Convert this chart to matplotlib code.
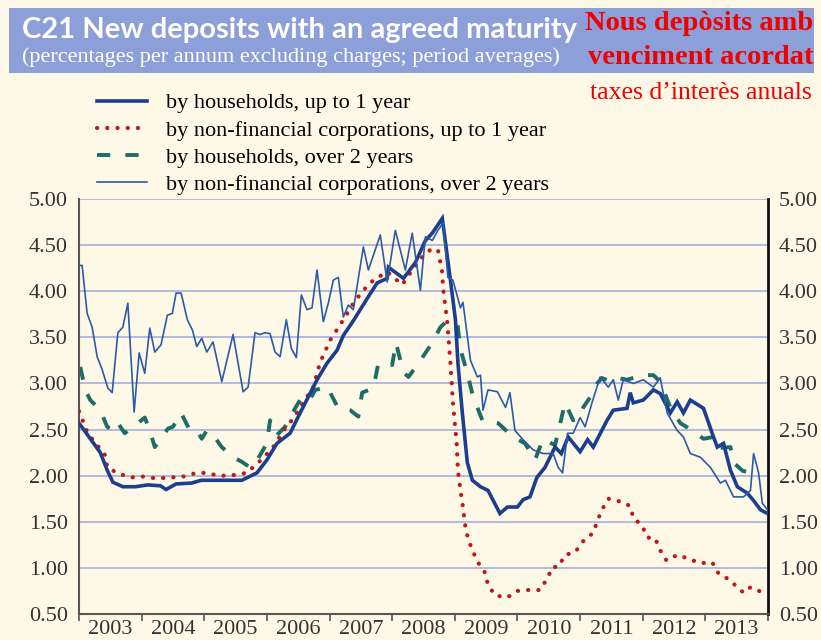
import matplotlib
matplotlib.use("Agg")
import matplotlib.pyplot as plt
from matplotlib.patches import Rectangle

# x = years since Jan 2003, y = % per annum
hh_short_t = [0.00, 0.34, 0.45, 0.54, 0.70, 0.90, 1.10, 1.30, 1.39, 1.55, 1.80, 1.95,
              2.30, 2.60, 2.84, 3.00, 3.16, 3.37, 3.53, 3.80, 3.96, 4.12, 4.22, 4.38,
              4.60, 4.76, 4.92, 4.94, 5.18, 5.37, 5.53, 5.64, 5.80, 5.93, 6.01, 6.05,
              6.12, 6.20, 6.28, 6.41, 6.53, 6.72, 6.84, 7.00, 7.09, 7.20, 7.31, 7.44,
              7.60, 7.70, 7.81, 8.00, 8.12, 8.21, 8.43, 8.53, 8.75, 8.80, 8.85, 9.01,
              9.17, 9.28, 9.44, 9.55, 9.65, 9.76, 9.97, 10.13, 10.19, 10.29, 10.40,
              10.51, 10.67, 10.77, 10.88, 10.99]
hh_short_v = [2.57, 2.25, 2.06, 1.93, 1.88, 1.88, 1.90, 1.89, 1.85, 1.91, 1.92, 1.95,
              1.95, 1.95, 2.03, 2.17, 2.35, 2.46, 2.68, 3.04, 3.22, 3.36, 3.52, 3.68,
              3.92, 4.09, 4.14, 4.26, 4.14, 4.31, 4.55, 4.63, 4.79, 4.12, 3.69, 3.22,
              2.68, 2.14, 1.95, 1.88, 1.84, 1.59, 1.66, 1.66, 1.74, 1.77, 1.98, 2.09,
              2.31, 2.24, 2.42, 2.26, 2.39, 2.31, 2.60, 2.71, 2.73, 2.90, 2.79, 2.82,
              2.93, 2.89, 2.68, 2.80, 2.68, 2.82, 2.73, 2.42, 2.31, 2.35, 2.06,
              1.88, 1.81, 1.73, 1.63, 1.59]

nfc_short_t = [0.00, 0.14, 0.42, 0.45, 0.61, 0.81, 1.02, 1.25, 1.45, 1.66, 1.88, 2.04,
               2.22, 2.41, 2.68, 2.94, 3.10, 3.29, 3.42, 3.53, 3.74, 3.85, 4.01, 4.22,
               4.38, 4.54, 4.70, 4.92, 5.16, 5.32, 5.48, 5.61, 5.73, 5.80, 5.81, 5.88,
               5.93, 5.97, 6.03, 6.05, 6.09, 6.12, 6.17, 6.21, 6.28, 6.37, 6.49, 6.53,
               6.65, 6.84, 7.00, 7.16, 7.36, 7.48, 7.56, 7.65, 7.76, 7.92, 8.05, 8.21,
               8.27, 8.35, 8.45, 8.58, 8.69, 8.80, 8.85, 8.99, 9.07, 9.20, 9.27, 9.38,
               9.55, 9.73, 9.92, 10.11, 10.21, 10.32, 10.48, 10.61, 10.72, 10.89]
nfc_short_v = [2.70, 2.46, 2.22, 2.09, 2.03, 1.98, 1.99, 1.97, 1.98, 1.99, 2.03, 2.03,
               2.00, 2.00, 2.03, 2.19, 2.31, 2.51, 2.62, 2.74, 2.96, 3.23, 3.47, 3.69,
               3.87, 4.01, 4.12, 4.21, 4.07, 4.23, 4.37, 4.45, 4.45, 4.20, 4.05, 3.66,
               3.22, 2.79, 2.35, 2.05, 1.84, 1.71, 1.44, 1.32, 1.19, 1.06, 0.94, 0.81,
               0.70, 0.68, 0.75, 0.76, 0.76, 0.89, 1.01, 1.01, 1.14, 1.17, 1.29, 1.38,
               1.50, 1.63, 1.75, 1.73, 1.71, 1.67, 1.54, 1.46, 1.33, 1.32, 1.20, 1.08,
               1.14, 1.10, 1.05, 1.06, 0.94, 0.90, 0.81, 0.73, 0.79, 0.74]

hh_long_t = [0.02, 0.10, 0.18, 0.34, 0.45, 0.54, 0.62, 0.73, 0.86, 0.94, 1.05, 1.13,
             1.21, 1.42, 1.50, 1.63, 1.77, 1.88, 1.96, 2.04, 2.12, 2.28, 2.46, 2.60,
             2.73, 2.81, 3.00, 3.05, 3.16, 3.29, 3.45, 3.53, 3.66, 3.77, 3.98, 4.01,
             4.14, 4.33, 4.46, 4.52, 4.70, 4.78, 5.00, 5.06, 5.18, 5.26, 5.45, 5.64,
             5.77, 5.85, 6.04, 6.09, 6.20, 6.29, 6.44, 6.53, 6.69, 6.93, 7.12, 7.28,
             7.41, 7.60, 7.76, 7.89, 8.00, 8.05, 8.16, 8.27, 8.35, 8.48, 8.59, 8.75,
             8.85, 8.99, 9.17, 9.28, 9.44, 9.60, 9.79, 9.97, 10.13, 10.21, 10.40,
             10.45, 10.60, 10.72, 10.85]
hh_long_v = [3.18, 2.93, 2.82, 2.71, 2.53, 2.49, 2.57, 2.46, 2.53, 2.57, 2.63, 2.49,
             2.31, 2.51, 2.53, 2.68, 2.49, 2.49, 2.40, 2.49, 2.46, 2.31, 2.20, 2.15,
             2.09, 2.13, 2.35, 2.60, 2.44, 2.53, 2.73, 2.82, 2.79, 2.93, 2.96, 2.90,
             2.73, 2.71, 2.64, 2.90, 2.95, 3.22, 3.20, 3.44, 3.12, 3.07, 3.25, 3.44,
             3.61, 3.66, 3.66, 3.37, 3.11, 2.86, 2.60, 2.60, 2.57, 2.42, 2.35, 2.17,
             2.40, 2.33, 2.79, 2.60, 2.63, 2.74, 2.85, 3.00, 3.06, 3.02, 3.06, 3.04,
             3.06, 3.09, 3.09, 3.02, 2.74, 2.57, 2.49, 2.40, 2.42, 2.30, 2.31,
             2.14, 2.05, 2.04, 2.03]

nfc_long_t = [0.02, 0.05, 0.13, 0.21, 0.29, 0.37, 0.46, 0.53, 0.62, 0.70, 0.78, 0.88,
              0.96, 1.05, 1.13, 1.21, 1.31, 1.41, 1.49, 1.55, 1.63, 1.73, 1.81, 1.88,
              1.96, 2.04, 2.14, 2.28, 2.46, 2.62, 2.70, 2.81, 2.89, 2.97, 3.05, 3.13,
              3.21, 3.31, 3.39, 3.47, 3.55, 3.64, 3.72, 3.80, 3.90, 3.98, 4.06, 4.14,
              4.22, 4.30, 4.38, 4.54, 4.62, 4.81, 4.92, 5.05, 5.21, 5.32, 5.45, 5.53,
              5.64, 5.73, 5.81, 5.89, 5.97, 6.09, 6.13, 6.25, 6.36, 6.41, 6.45, 6.53,
              6.68, 6.81, 6.88, 6.96, 7.09, 7.25, 7.41, 7.57, 7.65, 7.72, 7.80, 7.89,
              8.00, 8.08, 8.19, 8.32, 8.45, 8.53, 8.61, 8.69, 8.85, 9.01, 9.17, 9.28,
              9.39, 9.55, 9.65, 9.76, 9.92, 10.08, 10.24, 10.32, 10.45, 10.61, 10.72,
              10.77, 10.85, 10.91, 10.99]
nfc_long_v = [4.28, 4.28, 3.76, 3.61, 3.29, 3.15, 2.95, 2.90, 3.55, 3.61, 3.87, 2.69,
              3.33, 3.11, 3.60, 3.34, 3.42, 3.74, 3.76, 3.98, 3.98, 3.69, 3.58, 3.40,
              3.49, 3.34, 3.45, 3.02, 3.53, 2.91, 2.96, 3.55, 3.53, 3.55, 3.54, 3.34,
              3.29, 3.69, 3.38, 3.28, 3.96, 3.80, 3.82, 4.23, 3.67, 3.87, 4.12, 4.15,
              3.72, 3.85, 3.80, 4.48, 4.23, 4.61, 4.10, 4.66, 4.23, 4.63, 4.01, 4.59,
              4.55, 4.66, 4.74, 4.15, 4.12, 3.82, 3.88, 3.25, 3.07, 3.09, 2.71, 2.93,
              2.91, 2.74, 2.90, 2.49, 2.39, 2.28, 2.24, 2.24, 2.09, 2.03, 2.46, 2.46,
              2.63, 2.53, 2.79, 3.07, 2.96, 3.04, 2.82, 3.04, 3.00, 3.04, 2.96, 3.06,
              2.68, 2.49, 2.42, 2.24, 2.20, 2.09, 1.92, 1.95, 1.77, 1.77, 1.84,
              2.24, 2.03, 1.70, 1.63]

years = ["2003", "2004", "2005", "2006", "2007", "2008", "2009", "2010", "2011", "2012", "2013"]
yticks = [0.5, 1.0, 1.5, 2.0, 2.5, 3.0, 3.5, 4.0, 4.5, 5.0]

bg = "#fdf9e6"
serif = ["Liberation Serif", "DejaVu Serif"]

fig = plt.figure(figsize=(8.21, 6.40), dpi=100, facecolor=bg)
ax = fig.add_axes([79 / 821, 1 - 614 / 640, (768 - 79) / 821, (614 - 199) / 640])
ax.set_facecolor(bg)

ax.plot(hh_short_t, hh_short_v, color="#1d3d8f", lw=2.6, solid_joinstyle="miter",
        label="by households, up to 1 year", zorder=4)
ax.plot(nfc_short_t, nfc_short_v, color="#c0161c", lw=3.0, linestyle=(0, (0.05, 2.4)),
        dash_capstyle="round", label="by non-financial corporations, up to 1 year", zorder=3)
ax.plot(hh_long_t, hh_long_v, color="#1d6c68", lw=2.8, linestyle=(0, (3.4, 3.9)),
        label="by households, over 2 years", zorder=2)
ax.plot(nfc_long_t, nfc_long_v, color="#2c5aa8", lw=1.2,
        label="by non-financial corporations, over 2 years", zorder=5)

ax.set_xlim(0, 11)
ax.set_ylim(0.5, 5.0)
ax.set_yticks(yticks)
ax.set_yticklabels([f"{v:.2f}" for v in yticks])
ax.grid(axis="y", color="#b3badf", lw=1.4)
ax.set_axisbelow(True)

ax.set_xticks(range(12))
ax.set_xticklabels([])
ax.set_xticks([i + 0.5 for i in range(11)], minor=True)
ax.set_xticklabels(years, minor=True, fontsize=16, family=serif, color="#333333")
ax.tick_params(axis="x", which="major", length=5, width=1.2, color="#555555", direction="out")
ax.tick_params(axis="x", which="minor", length=0, pad=4)
ax.tick_params(axis="y", which="both", length=0, labelsize=16, labelcolor="#333333",
               left=True, right=True, labelleft=True, labelright=True, pad=8)
for lab in ax.get_yticklabels():
    lab.set_family(serif)

ax.spines["top"].set_visible(False)
ax.spines["left"].set_color("#555555")
ax.spines["left"].set_linewidth(1.5)
ax.spines["bottom"].set_color("#555555")
ax.spines["bottom"].set_linewidth(1.5)
ax.spines["right"].set_color("#111111")
ax.spines["right"].set_linewidth(2.0)

fig.legend(loc="upper left", bbox_to_anchor=(88 / 821, 1 - 84 / 640), frameon=False,
           prop={"family": serif, "size": 16}, handlelength=2.25, handletextpad=0.85,
           labelspacing=0.3, borderaxespad=0)

# title banner
fig.patches.append(Rectangle((9 / 821, 1 - 73 / 640), 805 / 821, 65 / 640,
                             transform=fig.transFigure, facecolor="#8d9fd8", edgecolor="none"))
fig.text(22 / 821, 1 - 30 / 640, "C21 New deposits with an agreed maturity", color="white",
         fontsize=21, fontweight="bold", family="Lato", va="center", ha="left")
fig.text(22 / 821, 1 - 57 / 640, "(percentages per annum excluding charges; period averages)",
         color="white", fontsize=16, family=serif, va="center", ha="left")

fig.text(813 / 821, 1 - 23 / 640, "Nous depòsits amb", color="#f00000", fontsize=20.5,
         fontweight="bold", family=serif, va="center", ha="right")
fig.text(813 / 821, 1 - 57 / 640, "venciment acordat", color="#f00000", fontsize=20.5,
         fontweight="bold", family=serif, va="center", ha="right")
fig.text(812 / 821, 1 - 93 / 640, "taxes d\u2019interès anuals", color="#f00000", fontsize=18.5,
         family=serif, va="center", ha="right")

fig.savefig("out.png", dpi=100, facecolor=bg)
